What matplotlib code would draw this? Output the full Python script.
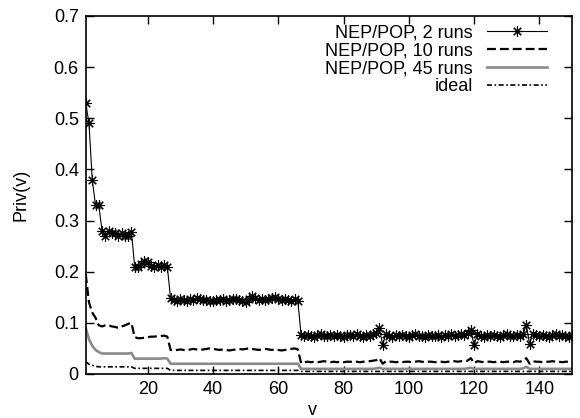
import numpy as np
import matplotlib.pyplot as plt
from matplotlib.ticker import FormatStrFormatter

plt.rcParams['font.family'] = ['Liberation Sans', 'DejaVu Sans']

# privacy per node index v (1..150)
v = np.arange(1, 151)

runs2 = [
    0.53, 0.49, 0.38, 0.33, 0.33, 0.28, 0.27, 0.28, 0.275, 0.275,
    0.27, 0.275, 0.27, 0.27, 0.278, 0.21, 0.21, 0.215, 0.22, 0.218,
    0.212, 0.21, 0.213, 0.21, 0.213, 0.21,
    0.148, 0.145, 0.142, 0.146, 0.144, 0.143, 0.147, 0.145, 0.148, 0.146,
    0.144, 0.145, 0.143, 0.142, 0.145, 0.144, 0.146, 0.143, 0.145, 0.147,
    0.146, 0.144, 0.143, 0.141, 0.146, 0.152, 0.149, 0.145, 0.147, 0.144,
    0.146, 0.148, 0.15, 0.146, 0.144, 0.147, 0.145, 0.143, 0.146, 0.142,
    0.076, 0.074, 0.077, 0.075, 0.073, 0.076, 0.078, 0.074, 0.075, 0.077,
    0.074, 0.076, 0.075, 0.073, 0.077, 0.076, 0.074, 0.078, 0.075, 0.073,
    0.076, 0.075, 0.078, 0.08, 0.089, 0.057, 0.079, 0.075, 0.072, 0.076,
    0.074, 0.077, 0.075, 0.073, 0.076, 0.078, 0.074, 0.075, 0.072, 0.077,
    0.075, 0.074, 0.076, 0.073, 0.077, 0.075, 0.078, 0.074, 0.076, 0.079,
    0.077, 0.08, 0.086, 0.056, 0.078, 0.075, 0.073, 0.076, 0.074, 0.077,
    0.075, 0.073, 0.076, 0.078, 0.074, 0.075, 0.077, 0.074, 0.078, 0.096,
    0.058, 0.079, 0.076, 0.074, 0.077, 0.075, 0.073, 0.076, 0.078, 0.074,
    0.077, 0.075, 0.073, 0.076,
]

runs10 = [
    0.195, 0.14, 0.12, 0.11, 0.095, 0.093, 0.095, 0.095, 0.093, 0.092,
    0.09, 0.093, 0.095, 0.098, 0.1, 0.072, 0.07, 0.07, 0.071, 0.072,
    0.073, 0.073, 0.074, 0.074, 0.075, 0.073,
    0.047, 0.046, 0.047, 0.048, 0.047, 0.046, 0.048, 0.049, 0.048, 0.047,
    0.048, 0.049, 0.05, 0.049, 0.048, 0.047, 0.048, 0.047, 0.046, 0.047,
    0.048, 0.049, 0.048, 0.049, 0.05, 0.049, 0.048, 0.047, 0.048, 0.049,
    0.048, 0.047, 0.048, 0.047, 0.046, 0.047, 0.048, 0.049, 0.05, 0.048,
    0.021, 0.023, 0.024, 0.023, 0.024, 0.023, 0.024, 0.025, 0.024, 0.023,
    0.024, 0.023, 0.024, 0.023, 0.024, 0.024, 0.023, 0.024, 0.023, 0.024,
    0.024, 0.025, 0.026, 0.027, 0.031, 0.02, 0.025, 0.024, 0.024, 0.023,
    0.024, 0.023, 0.024, 0.024, 0.023, 0.024, 0.025, 0.024, 0.023, 0.024,
    0.024, 0.023, 0.024, 0.024, 0.023, 0.024, 0.024, 0.025, 0.024, 0.025,
    0.025, 0.026, 0.031, 0.021, 0.025, 0.024, 0.023, 0.024, 0.024, 0.023,
    0.024, 0.024, 0.023, 0.024, 0.024, 0.023, 0.025, 0.024, 0.026, 0.031,
    0.02, 0.025, 0.024, 0.024, 0.023, 0.024, 0.024, 0.025, 0.024, 0.024,
    0.023, 0.024, 0.024, 0.024,
]

runs45 = [
    0.09, 0.068, 0.055, 0.047, 0.043, 0.04, 0.04, 0.04, 0.04, 0.04,
    0.04, 0.04, 0.04, 0.04, 0.041, 0.03, 0.03, 0.03, 0.03, 0.03,
    0.03, 0.03, 0.03, 0.03, 0.031, 0.03,
    0.02, 0.02, 0.02, 0.02, 0.02, 0.02, 0.02, 0.02, 0.02, 0.02,
    0.02, 0.02, 0.02, 0.02, 0.02, 0.02, 0.02, 0.02, 0.02, 0.02,
    0.02, 0.02, 0.02, 0.02, 0.02, 0.02, 0.02, 0.02, 0.02, 0.02,
    0.02, 0.02, 0.02, 0.02, 0.02, 0.02, 0.02, 0.02, 0.02, 0.02,
    0.01, 0.01, 0.01, 0.01, 0.01, 0.01, 0.01, 0.01, 0.01, 0.01,
    0.01, 0.01, 0.01, 0.01, 0.01, 0.01, 0.01, 0.01, 0.01, 0.01,
    0.01, 0.01, 0.01, 0.011, 0.012, 0.01, 0.01, 0.01, 0.01, 0.01,
    0.01, 0.01, 0.01, 0.01, 0.01, 0.01, 0.01, 0.01, 0.01, 0.01,
    0.01, 0.01, 0.01, 0.01, 0.01, 0.01, 0.01, 0.01, 0.01, 0.01,
    0.01, 0.011, 0.012, 0.01, 0.01, 0.01, 0.01, 0.01, 0.01, 0.01,
    0.01, 0.01, 0.01, 0.01, 0.01, 0.01, 0.01, 0.01, 0.011, 0.014,
    0.01, 0.01, 0.01, 0.01, 0.01, 0.01, 0.01, 0.01, 0.01, 0.01,
    0.01, 0.01, 0.01, 0.01,
]

ideal = [
    0.024, 0.019, 0.017, 0.015, 0.014, 0.014, 0.014, 0.014, 0.014, 0.014,
    0.014, 0.014, 0.014, 0.014, 0.014, 0.011, 0.011, 0.011, 0.011, 0.011,
    0.011, 0.011, 0.011, 0.011, 0.011, 0.011,
    0.007, 0.007, 0.007, 0.007, 0.007, 0.007, 0.007, 0.007, 0.007, 0.007,
    0.007, 0.007, 0.007, 0.007, 0.007, 0.007, 0.007, 0.007, 0.007, 0.007,
    0.007, 0.007, 0.007, 0.007, 0.007, 0.007, 0.007, 0.007, 0.007, 0.007,
    0.007, 0.007, 0.007, 0.007, 0.007, 0.007, 0.007, 0.007, 0.007, 0.007,
    0.005, 0.005, 0.005, 0.005, 0.005, 0.005, 0.005, 0.005, 0.005, 0.005,
    0.005, 0.005, 0.005, 0.005, 0.005, 0.005, 0.005, 0.005, 0.005, 0.005,
    0.005, 0.005, 0.005, 0.005, 0.005, 0.005, 0.005, 0.005, 0.005, 0.005,
    0.005, 0.005, 0.005, 0.005, 0.005, 0.005, 0.005, 0.005, 0.005, 0.005,
    0.005, 0.005, 0.005, 0.005, 0.005, 0.005, 0.005, 0.005, 0.005, 0.005,
    0.005, 0.005, 0.005, 0.005, 0.005, 0.005, 0.005, 0.005, 0.005, 0.005,
    0.005, 0.005, 0.005, 0.005, 0.005, 0.005, 0.005, 0.005, 0.005, 0.005,
    0.005, 0.005, 0.005, 0.005, 0.005, 0.005, 0.005, 0.005, 0.005, 0.005,
    0.005, 0.005, 0.005, 0.005,
]

fig = plt.figure(figsize=(5.8, 4.18), dpi=100)
ax = fig.add_axes([0.1478, 0.1053, 0.8384, 0.8565])

ax.plot(v, runs2, color='black', lw=0.8, marker=(8, 2, 0), markersize=7.5,
        mew=0.8, label='NEP/POP, 2 runs')
ax.plot(v, runs10, color='black', lw=1.6, dashes=(4, 1.8), label='NEP/POP, 10 runs')
ax.plot(v, runs45, color='#8a8a8a', lw=1.9, label='NEP/POP, 45 runs')
ax.plot(v, ideal, color='black', lw=1.2, dashes=(3, 1.5, 1, 1.5), label='ideal')

ax.set_xlim(1, 150)
ax.set_ylim(0, 0.7)
ax.set_xticks([20, 40, 60, 80, 100, 120, 140])
ax.set_yticks([0, 0.1, 0.2, 0.3, 0.4, 0.5, 0.6, 0.7])
ax.yaxis.set_major_formatter(FormatStrFormatter('%g'))
ax.tick_params(direction='in', length=6, width=1, top=True, right=True,
               labelsize=13, pad=5)
for s in ax.spines.values():
    s.set_linewidth(1.2)

ax.set_xlabel('v', fontsize=13)
ax.set_ylabel('Priv(v)', fontsize=13)
ax.xaxis.set_label_coords(0.467, -0.078)
ax.yaxis.set_label_coords(-0.115, 0.5)

ax.legend(loc='upper right', bbox_to_anchor=(0.9486, 0.977), frameon=False,
          fontsize=13, markerfirst=False, numpoints=1, handlelength=3.3,
          handletextpad=0.8, labelspacing=0.05, borderpad=0, borderaxespad=0)

plt.savefig('out.png', dpi=100)
